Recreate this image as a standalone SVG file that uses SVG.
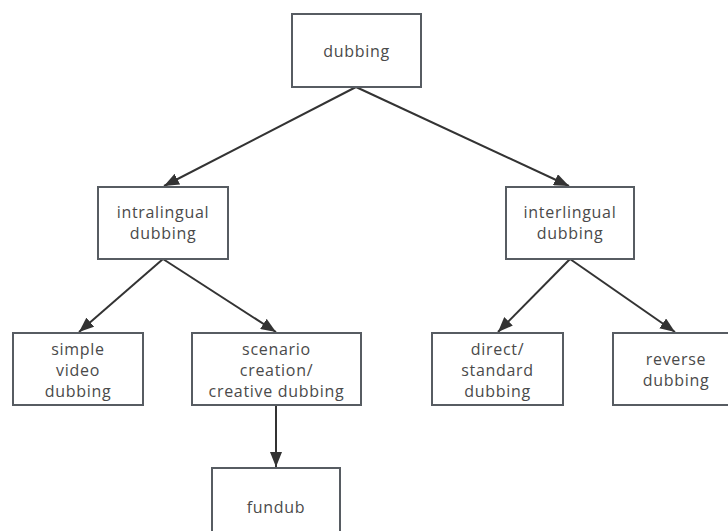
<svg xmlns="http://www.w3.org/2000/svg" width="728" height="531" viewBox="0 0 728 531">
<defs>
<style>
.box{fill:#fff;stroke:#575c62;stroke-width:2}
.t{font-family:"Open Sans","Noto Sans",sans-serif;font-size:16px;letter-spacing:0.7px;fill:#4a4a4a;text-anchor:middle}
.c{stroke:#333;stroke-width:2;fill:none;marker-end:url(#ah)}
</style>
<marker id="ah" viewBox="0 0 15 12" refX="15" refY="6" markerWidth="15" markerHeight="12" markerUnits="userSpaceOnUse" orient="auto">
<path d="M0,0 L15,6 L0,12 Z" fill="#333"/>
</marker>
</defs>
<rect width="728" height="531" fill="#fff"/>
<g id="connectors">
<line class="c" x1="356" y1="87" x2="164" y2="186"/>
<line class="c" x1="356" y1="87" x2="569" y2="186"/>
<line class="c" x1="163" y1="259" x2="79" y2="332"/>
<line class="c" x1="163" y1="259" x2="276" y2="332"/>
<line class="c" x1="570" y1="259" x2="498" y2="332"/>
<line class="c" x1="570" y1="259" x2="675" y2="332"/>
<line class="c" x1="276" y1="405" x2="276" y2="467"/>
</g>
<g id="n-dubbing"><rect class="box" x="292" y="14" width="129" height="73"/><text class="t" x="356.5" y="57">dubbing</text></g>
<g id="n-intralingual"><rect class="box" x="98" y="187" width="130" height="72"/><text class="t" x="163" y="218">intralingual</text><text class="t" x="163" y="239">dubbing</text></g>
<g id="n-interlingual"><rect class="box" x="506" y="187" width="128" height="72"/><text class="t" x="570" y="218">interlingual</text><text class="t" x="570" y="239">dubbing</text></g>
<g id="n-simple"><rect class="box" x="13" y="333" width="130" height="72"/><text class="t" x="78" y="355">simple</text><text class="t" x="78" y="376">video</text><text class="t" x="78" y="397">dubbing</text></g>
<g id="n-scenario"><rect class="box" x="192" y="333" width="169" height="72"/><text class="t" x="276.5" y="355">scenario</text><text class="t" x="276.5" y="376">creation/</text><text class="t" x="276.5" y="397">creative dubbing</text></g>
<g id="n-direct"><rect class="box" x="432" y="333" width="131" height="72"/><text class="t" x="497.5" y="355">direct/</text><text class="t" x="497.5" y="376">standard</text><text class="t" x="497.5" y="397">dubbing</text></g>
<g id="n-reverse"><rect class="box" x="613" y="333" width="126" height="72"/><text class="t" x="676" y="365">reverse</text><text class="t" x="676" y="386">dubbing</text></g>
<g id="n-fundub"><rect class="box" x="212" y="468" width="128" height="72"/><text class="t" x="276" y="513">fundub</text></g>
</svg>
